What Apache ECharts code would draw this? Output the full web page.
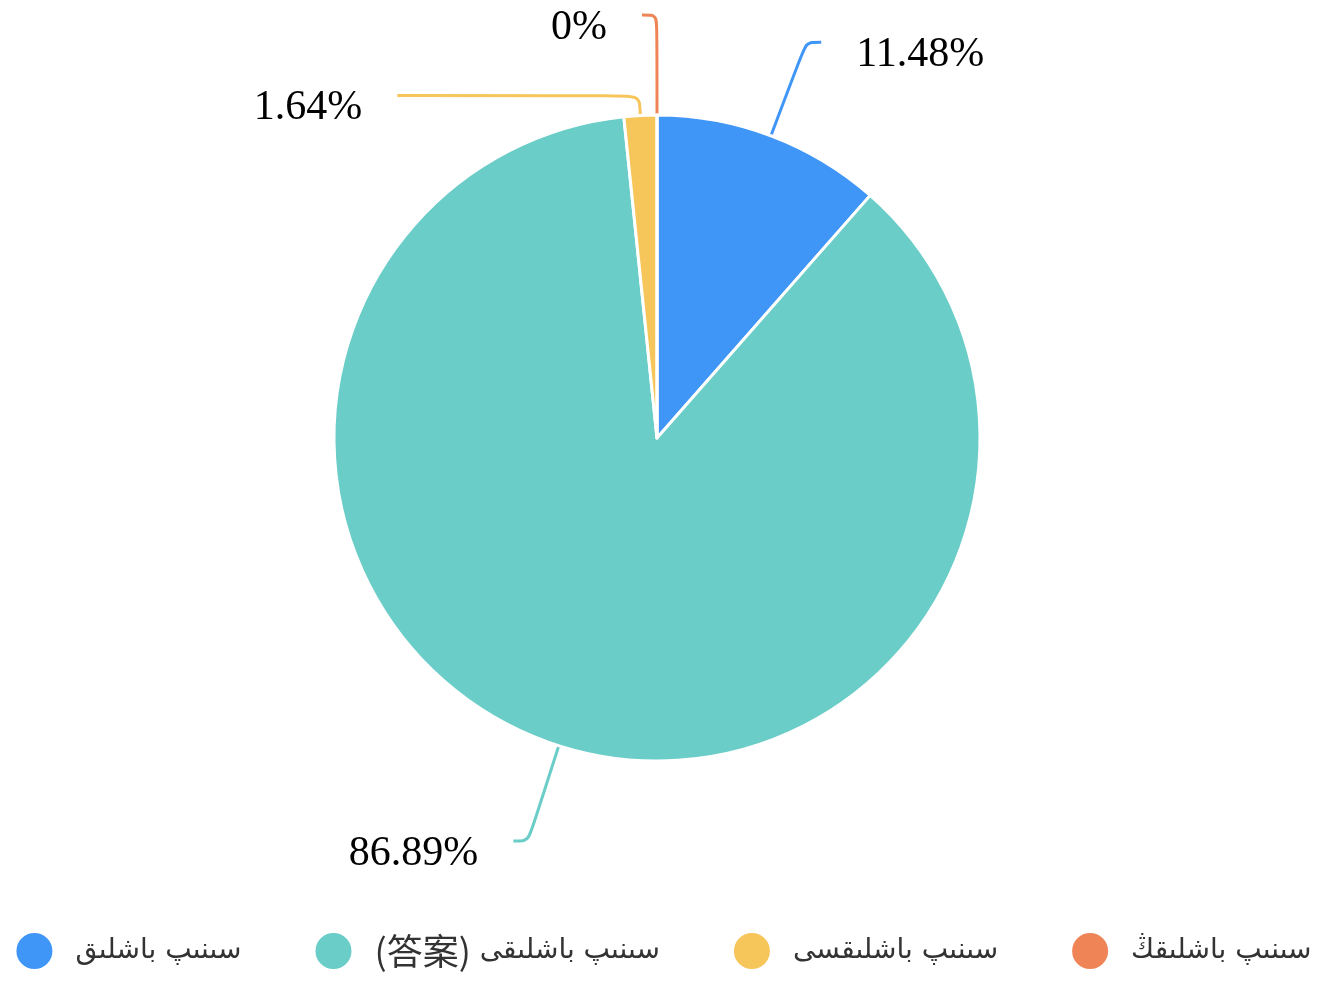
<!DOCTYPE html>
<html><head><meta charset="utf-8">
<style>html,body{margin:0;padding:0;background:#fff}#c{width:1326px;height:985px}</style>
<script src="https://cdn.jsdelivr.net/npm/echarts@6/dist/echarts.min.js"></script>
</head><body><div id="c"></div>
<script>
const categories = ["سىنىپ باشلىق", "(答案) سىنىپ باشلىقى", "سىنىپ باشلىقسى", "سىنىپ باشلىقڭ"];
const values = [7, 53, 1, 0];
const percentLabels = ["11.48%", "86.89%", "1.64%", "0%"];
const colors = ["#4096f7", "#6acdc8", "#f6c65b", "#ef8556"];

const chart = echarts.init(document.getElementById('c'));
const data = categories.map((n, i) => ({ name: n, value: values[i] }));
// the small yellow slice has a short first segment and a long horizontal run
data[2].labelLine = { length: 20, length2: 242 };

chart.setOption({
  color: colors,
  legend: {
    bottom: 9, left: 'center', icon: 'circle',
    itemWidth: 38, itemHeight: 38, itemGap: 72,
    formatter: name => {
      const m = name.match(/^(\(.*?\))(.*)$/);
      return m ? '{cjk|' + m[1] + '}' + m[2] : name;
    },
    textStyle: {
      fontSize: 28, color: '#333', fontFamily: 'DejaVu Sans', padding: [0, 0, 0, 17],
      rich: { cjk: { fontSize: 36, color: '#333', fontFamily: 'Noto Sans CJK SC' } }
    }
  },
  series: [{
    type: 'pie',
    center: [657, 438],
    radius: 323,
    avoidLabelOverlap: false,
    itemStyle: { borderColor: '#fff', borderWidth: 3 },
    label: {
      formatter: p => '{p|' + percentLabels[p.dataIndex] + '}',
      fontSize: 42, color: '#000', fontFamily: 'Liberation Serif',
      distanceToLabelLine: 35,
      rich: { p: { fontSize: 42, color: '#000', fontFamily: 'Liberation Serif', padding: [26, 0, 0, 0] } }
    },
    labelLine: { length: 100, length2: 15, smooth: true, lineStyle: { width: 3 } },
    data: data
  }]
});
</script></body></html>
